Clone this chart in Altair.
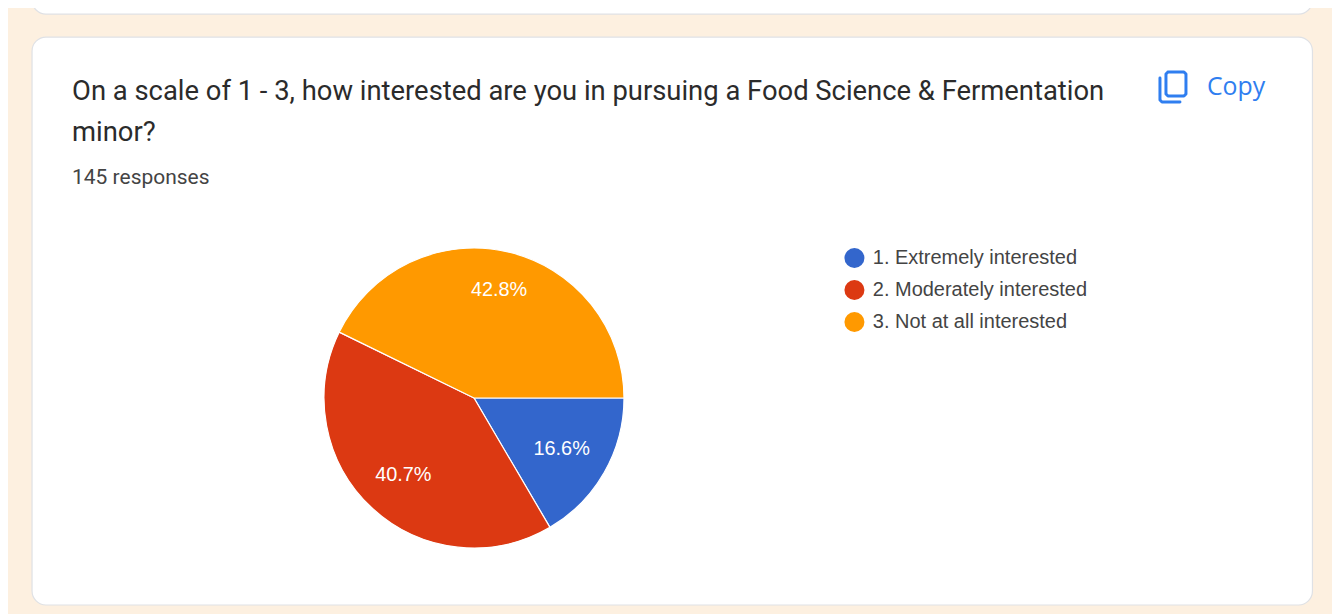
import math
import altair as alt
import pandas as pd

categories = ["1. Extremely interested", "2. Moderately interested", "3. Not at all interested"]
responses = [24, 59, 62]
share_labels = ["16.6%", "40.7%", "42.8%"]
colors = ["#3366cc", "#dc3912", "#ff9900"]

OX, OY = 8, 8  # page margin
S = 1340 / 1348  # a chart that fills the window to its right edge is photographed at this scale
CY = 1.82        # ...and centred vertically with this offset


def px(v):
    return v / S - OX


def py(v):
    return (v - CY) / S - OY


X0 = lambda v: alt.value(px(v))
Y0 = lambda v: alt.value(py(v))

one = pd.DataFrame({"a": [0]})


def card(top, bottom):
    return alt.Chart(one).mark_rect(
        fill="white", stroke="#dfe1e5", strokeWidth=1.2, cornerRadius=14
    ).encode(x=X0(32), x2=X0(1312.5), y=Y0(top), y2=Y0(bottom))


def label(text, x, y, size, color, font="Roboto", weight=400):
    return alt.Chart(pd.DataFrame({"t": [text]})).mark_text(
        font=font, fontSize=size, color=color, align="left", baseline="alphabetic", fontWeight=weight
    ).encode(text="t:N", x=X0(x), y=Y0(y))


def stroke_path(xs, ys):
    d = pd.DataFrame({"i": list(range(len(xs))), "px": [px(v) for v in xs], "py": [py(v) for v in ys]})
    return alt.Chart(d).mark_line(color="#2f7ef0", strokeWidth=3, strokeCap="round", strokeJoin="round").encode(
        x=alt.X("px:Q", scale=None), y=alt.Y("py:Q", scale=None), order="i:Q"
    )


table = pd.DataFrame({"category": categories, "value": responses, "share": share_labels})
theta = alt.Theta("value:Q", stack=True, scale=alt.Scale(range=[math.pi / 2, math.pi / 2 + 2 * math.pi]))
order = alt.Order("category:N", sort="ascending")

pie = alt.Chart(table).mark_arc(outerRadius=150 / S, stroke="white", strokeWidth=1.2).encode(
    theta=theta,
    order=order,
    x=X0(474),
    y=Y0(398),
    color=alt.Color(
        "category:N",
        scale=alt.Scale(domain=categories, range=colors),
        legend=alt.Legend(
            title=None,
            orient="none",
            legendX=px(844),
            legendY=py(246),
            symbolType="circle",
            symbolSize=400 / S / S,
            symbolStrokeWidth=0,
            symbolOpacity=1,
            labelFont="Liberation Sans",
            labelFontSize=20.1,
            labelColor="#444444",
            labelOffset=8,
            rowPadding=8.2,
            labelLimit=400,
            clipHeight=24,
            padding=0,
        ),
    ),
)

pie_labels = alt.Chart(table).mark_text(
    radius=alt.expr("datum.value < 30 ? 101.6 : datum.value < 60 ? 104.6 : 111.6"),
    font="Liberation Sans",
    fontSize=20,
    color="white",
    align="center",
    baseline="middle",
    dy=0.5,
).encode(theta=theta, order=order, detail="category:N", text="share:N", x=X0(474), y=Y0(398))

chart = alt.layer(
    card(-30, 14),
    card(37, 605),
    label("On a scale of 1 - 3, how interested are you in pursuing a Food Science & Fermentation", 72, 100, 27.55, "#2b2b2b"),
    label("minor?", 72, 141, 27.55, "#2b2b2b"),
    label("145 responses", 72, 184, 21.1, "#444444"),
    label("Copy", 1207, 95, 25, "#2f7ef0", font="Open Sans"),
    stroke_path([1168, 1184, 1186, 1186, 1184, 1168, 1166, 1166, 1168], [72, 72, 74, 94, 96, 96, 94, 74, 72]),
    stroke_path([1160, 1160, 1162, 1180], [78, 100, 102, 102]),
    pie,
    pie_labels,
).properties(
    width=1332,
    height=606,
    background="#fdf0e0",
    padding=0,
    autosize=alt.AutoSizeParams(type="none"),
).configure_view(stroke=None)

chart.save("out.html", embed_options={"renderer": "svg", "actions": False})
